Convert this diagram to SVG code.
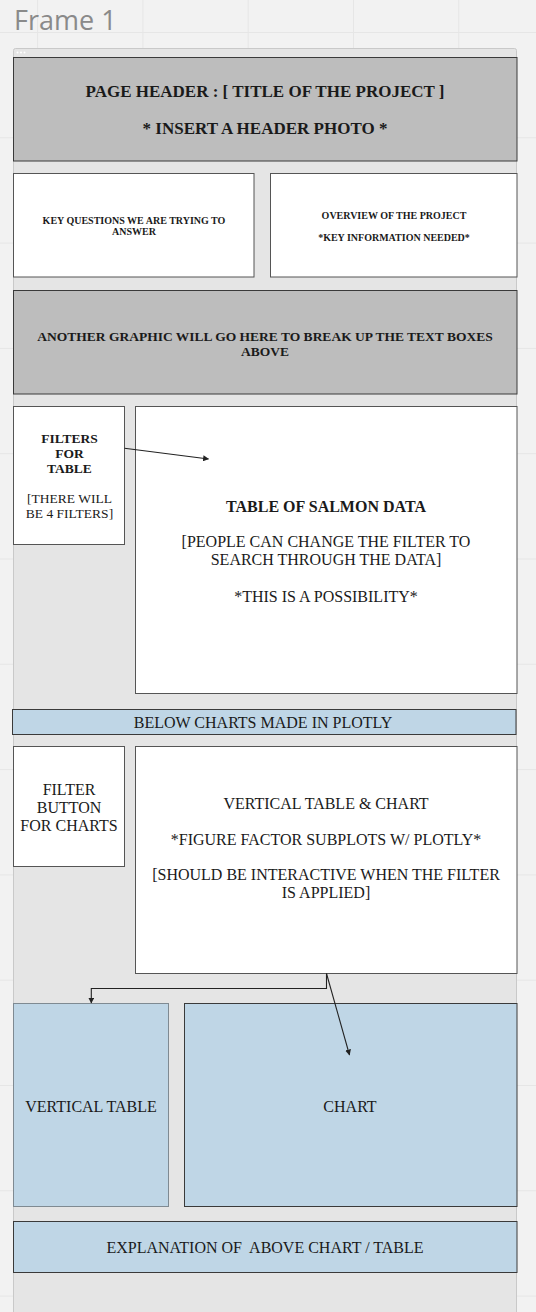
<svg xmlns="http://www.w3.org/2000/svg" width="536" height="1312" viewBox="0 0 536 1312">
<style>
.bg{fill:#f2f2f2}
.grid{stroke:#e6e6e6;stroke-width:1;fill:none}
.frame{fill:#e5e5e5;stroke:#c9c9c9;stroke-width:1}
.gray{fill:#bdbdbd;stroke:#3a3a3a;stroke-width:1}
.white{fill:#ffffff;stroke:#555555;stroke-width:1}
.blue{fill:#bfd6e6;stroke:#3a3a3a;stroke-width:1}
.bluel{fill:#bfd6e6;stroke:#7f8a92;stroke-width:1}
text{font-family:"Liberation Serif","Times New Roman",serif;fill:#1a1a1a;text-anchor:middle}
.b{font-weight:bold}
.title{font-family:"Open Sans","Noto Sans",sans-serif;fill:#8a8a8a;text-anchor:start;font-size:27px}
.conn{stroke:#222;stroke-width:1.1;fill:none}
</style>
<defs>
<marker id="ah" viewBox="0 0 10 10" refX="9" refY="5" markerWidth="6" markerHeight="6" orient="auto" markerUnits="userSpaceOnUse">
<path d="M0,0 L10,5 L0,10 z" fill="#222"/>
</marker>
</defs>
<rect class="bg" x="0" y="0" width="536" height="1312"/>
<path class="grid" d="M37.6,0V1312M142.9,0V1312M248.2,0V1312M353.5,0V1312M458.8,0V1312M0,32.5H536M0,137.8H536M0,243.1H536M0,348.4H536M0,453.7H536M0,559H536M0,664.3H536M0,769.6H536M0,874.9H536M0,980.2H536M0,1085.5H536M0,1190.8H536M0,1296.1H536"/>
<text class="title" x="14" y="30">Frame 1</text>
<g id="frame">
<rect class="frame" x="13.5" y="48.5" width="503" height="1275" rx="2"/>
<circle cx="17.5" cy="52.5" r="1" fill="#fff"/>
<circle cx="21" cy="52.5" r="1" fill="#fff"/>
<circle cx="24.5" cy="52.5" r="1" fill="#fff"/>
</g>
<g id="header">
<rect class="gray" x="13.5" y="57.5" width="503.5" height="103.5"/>
<text class="b" x="265" y="97" font-size="17">PAGE HEADER : [ TITLE OF THE PROJECT ]</text>
<text class="b" x="265" y="134" font-size="17">* INSERT A HEADER PHOTO *</text>
</g>
<g id="key-questions">
<rect class="white" x="13.5" y="173.5" width="240.5" height="103.5"/>
<text class="b" x="134" y="224" font-size="10">KEY QUESTIONS WE ARE TRYING TO</text>
<text class="b" x="134" y="235" font-size="10">ANSWER</text>
</g>
<g id="overview">
<rect class="white" x="270.5" y="173.5" width="246.5" height="103.5"/>
<text class="b" x="394" y="219" font-size="10">OVERVIEW OF THE PROJECT</text>
<text class="b" x="394" y="240.5" font-size="10">*KEY INFORMATION NEEDED*</text>
</g>
<g id="graphic">
<rect class="gray" x="13.5" y="290.5" width="503.5" height="103.5"/>
<text class="b" x="265" y="341" font-size="13.5">ANOTHER GRAPHIC WILL GO HERE TO BREAK UP THE TEXT BOXES</text>
<text class="b" x="265" y="356" font-size="13.5">ABOVE</text>
</g>
<g id="filters-table">
<rect class="white" x="13.5" y="406.5" width="111" height="138"/>
<text class="b" x="69.5" y="443" font-size="13.5">FILTERS</text>
<text class="b" x="69.5" y="458" font-size="13.5">FOR</text>
<text class="b" x="69.5" y="473" font-size="13.5">TABLE</text>
<text x="69.5" y="502.5" font-size="13.5">[THERE WILL</text>
<text x="69.5" y="518" font-size="13.5">BE 4 FILTERS]</text>
</g>
<g id="salmon-table">
<rect class="white" x="135.5" y="406.5" width="381.5" height="287"/>
<text class="b" x="326" y="512" font-size="16">TABLE OF SALMON DATA</text>
<text x="326" y="547" font-size="16">[PEOPLE CAN CHANGE THE FILTER TO</text>
<text x="326" y="565" font-size="16">SEARCH THROUGH THE DATA]</text>
<text x="326" y="602" font-size="16">*THIS IS A POSSIBILITY*</text>
</g>
<g id="plotly-bar">
<rect class="blue" x="12.5" y="709.5" width="503.5" height="25"/>
<text x="263" y="728" font-size="16">BELOW CHARTS MADE IN PLOTLY</text>
</g>
<g id="filter-button">
<rect class="white" x="13.5" y="746.5" width="111" height="120"/>
<text x="69" y="795" font-size="16">FILTER</text>
<text x="69" y="813" font-size="16">BUTTON</text>
<text x="69" y="831" font-size="16">FOR CHARTS</text>
</g>
<g id="table-chart">
<rect class="white" x="135.5" y="746.5" width="381.5" height="227"/>
<text x="326" y="809" font-size="16">VERTICAL TABLE &amp; CHART</text>
<text x="326" y="844.5" font-size="16">*FIGURE FACTOR SUBPLOTS W/ PLOTLY*</text>
<text x="326" y="880" font-size="16">[SHOULD BE INTERACTIVE WHEN THE FILTER</text>
<text x="326" y="898" font-size="16">IS APPLIED]</text>
</g>
<g id="vertical-table">
<rect class="bluel" x="13.5" y="1003.5" width="155" height="203"/>
<text x="91" y="1112" font-size="16">VERTICAL TABLE</text>
</g>
<g id="chart">
<rect class="blue" x="184.5" y="1003.5" width="332.5" height="203"/>
<text x="350" y="1112" font-size="16">CHART</text>
</g>
<g id="explanation">
<rect class="blue" x="13.5" y="1221.5" width="503.5" height="51"/>
<text x="265" y="1253" font-size="16" xml:space="preserve" style="white-space:pre">EXPLANATION OF  ABOVE CHART / TABLE</text>
</g>
<g id="connectors">
<path class="conn" d="M124.5,448.3 L208.5,459" marker-end="url(#ah)"/>
<path class="conn" d="M326.5,973.5 V988.5 H91.3 V1003" marker-end="url(#ah)"/>
<path class="conn" d="M326.5,973.5 L349.5,1055" marker-end="url(#ah)"/>
</g>
</svg>
